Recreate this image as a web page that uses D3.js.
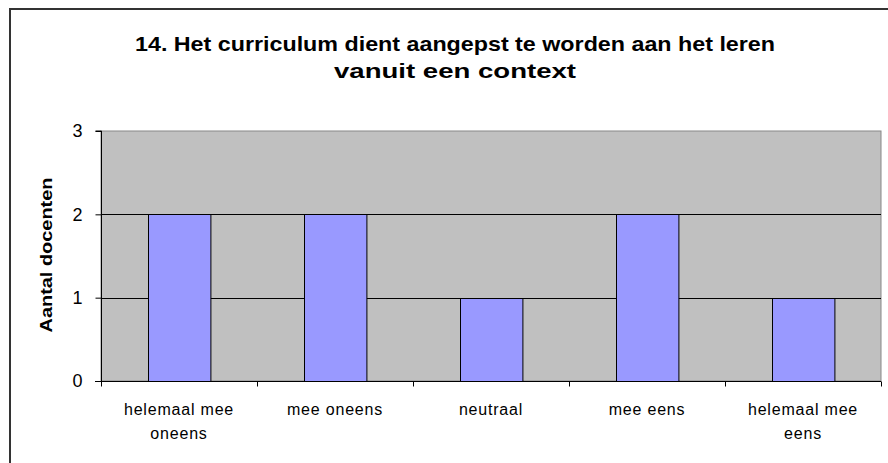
<!DOCTYPE html>
<meta charset="utf-8"/>
<html>
<head>
<script src="https://d3js.org/d3.v7.min.js"></script>
<style>
  * { margin: 0; padding: 0; }
  body { background: #fff; }
  text { font-family: "Liberation Sans", Arial, sans-serif; }
</style>
</head>
<body>
<div id="chart"></div>
<script>
// data
const categories = [["helemaal mee", "oneens"], ["mee oneens"], ["neutraal"], ["mee eens"], ["helemaal mee", "eens"]];
const counts = [2, 2, 1, 2, 1];
const yTicks = [0, 1, 2, 3];
const titleLines = ["14. Het curriculum dient aangepst te worden aan het leren", "vanuit een context"];
const yTitle = "Aantal docenten";

const W = 888, H = 463;
const plot = {left: 101, top: 131, right: 881, bottom: 381};
// title line widths as they appear in the picture
const titleWidths = [640, 242];

const svg = d3.select("#chart").append("svg")
    .attr("width", W).attr("height", H);

// outer frame
svg.append("rect").attr("x", 10).attr("y", 9).attr("width", W).attr("height", H)
    .attr("fill", "#fff").attr("stroke", "#333").attr("stroke-width", 2);

var x = d3.scaleBand().domain(d3.range(categories.length))
    .range([plot.left, plot.right]).paddingInner(0.6).paddingOuter(0.3);
var xOuter = d3.scaleBand().domain(d3.range(categories.length))
    .range([plot.left, plot.right]);
var y = d3.scaleLinear().domain([0, 3]).range([plot.bottom, plot.top]);

// plot background
svg.append("rect").attr("x", plot.left).attr("y", plot.top)
    .attr("width", plot.right - plot.left).attr("height", plot.bottom - plot.top)
    .attr("fill", "#c0c0c0").attr("stroke", "#888").attr("stroke-width", 1);

// gridlines
svg.selectAll(".grid").data(yTicks.filter(d => d > 0 && d < 3)).join("line")
    .attr("x1", plot.left).attr("x2", plot.right)
    .attr("y1", d => Math.round(y(d)) + 0.5).attr("y2", d => Math.round(y(d)) + 0.5)
    .attr("stroke", "#000").attr("stroke-width", 1);

// bars
svg.selectAll(".bar").data(counts).join("rect")
    .attr("x", (d, i) => Math.round(x(i)) + 0.5)
    .attr("y", d => Math.round(y(d)) + 0.5)
    .attr("width", x.bandwidth())
    .attr("height", d => y(0) - Math.round(y(d)))
    .attr("fill", "#9999ff").attr("stroke", "#000").attr("stroke-width", 1);

// y axis
var yAxis = svg.append("g").attr("transform", `translate(${plot.left + 0.5},0)`)
    .call(d3.axisLeft(y).tickValues(yTicks).tickFormat(d3.format("d")).tickSize(6).tickPadding(13));
yAxis.select(".domain").attr("stroke", "#000").attr("d", `M-6,${plot.top}H0V${plot.bottom + 5}`);
yAxis.selectAll("text")
    .style("font-size", "18px").style("font-family", "Liberation Sans, Arial, sans-serif")
    .attr("fill", "#000");

// x axis
var xAxis = svg.append("g").attr("transform", `translate(0,${plot.bottom + 0.5})`);
xAxis.append("line").attr("x1", plot.left - 6).attr("x2", plot.right).attr("stroke", "#000");
xAxis.selectAll(".tick").data(d3.range(categories.length + 1)).join("line")
    .attr("x1", i => Math.round(plot.left + i * xOuter.step()) + 0.5)
    .attr("x2", i => Math.round(plot.left + i * xOuter.step()) + 0.5)
    .attr("y1", 0).attr("y2", 5).attr("stroke", "#000");

svg.selectAll(".xlab").data(categories).join("text")
    .attr("text-anchor", "middle").style("font-size", "16px").style("letter-spacing", "0.8px")
    .attr("fill", "#000")
    .attr("transform", (d, i) => `translate(${xOuter(i) + xOuter.bandwidth() / 2},415)`)
    .selectAll("tspan").data(d => d).join("tspan")
    .attr("x", 0).attr("y", (d, j) => j * 24).text(d => d);

// title
svg.selectAll(".title").data(titleLines).join("text")
    .attr("x", 455).attr("y", (d, i) => 51 + i * 27).attr("text-anchor", "middle")
    .style("font-size", "21px").attr("font-weight", "bold").attr("fill", "#000")
    .attr("textLength", (d, i) => titleWidths[i]).attr("lengthAdjust", "spacingAndGlyphs")
    .text(d => d);

// y axis title
svg.append("text").attr("transform", "translate(52,255) rotate(-90)")
    .attr("text-anchor", "middle").style("font-size", "16px").attr("font-weight", "bold")
    .attr("textLength", 155).attr("lengthAdjust", "spacingAndGlyphs")
    .attr("fill", "#000").text(yTitle);
</script>
</body>
</html>
